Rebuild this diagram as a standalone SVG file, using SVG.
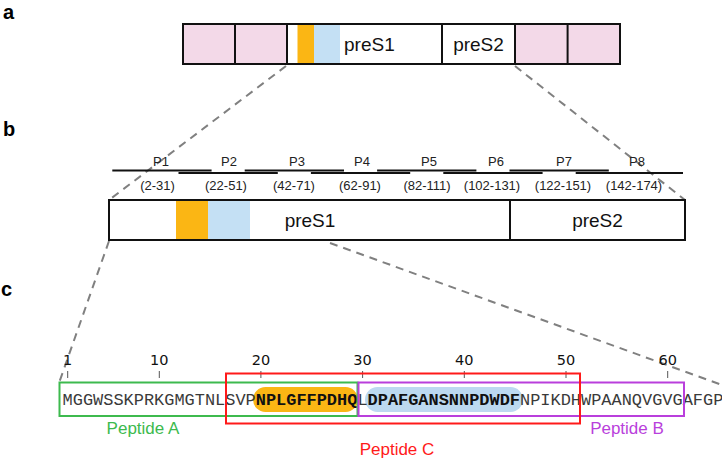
<svg xmlns="http://www.w3.org/2000/svg" width="722" height="464" viewBox="0 0 722 464">
<style>
.lbl{font-family:"Liberation Sans",Arial,sans-serif;font-weight:bold;font-size:20px;fill:#000}
.seg{font-family:"Liberation Sans",Arial,sans-serif;font-size:19px;fill:#111}
.pl{font-family:"Liberation Sans",Arial,sans-serif;font-size:13px;fill:#222;text-anchor:middle}
.pline{stroke:#111;stroke-width:2}
.box{fill:none;stroke:#111;stroke-width:2}
.dash{stroke:#808080;stroke-width:2;stroke-dasharray:8 6;fill:none}
.tick{stroke:#555;stroke-width:1}
.num{font-family:"DejaVu Sans",Verdana,sans-serif;font-size:14.5px;fill:#111;text-anchor:middle}
.seq{font-family:"Liberation Mono","Courier New",monospace;font-size:16.95px;fill:#3a3a3a}
.bold{font-weight:bold;fill:#111}
.pep{font-family:"Liberation Sans",Arial,sans-serif;font-size:17px;text-anchor:middle}
</style>
<rect width="722" height="464" fill="#fff"/>
<text class="lbl" x="3" y="19">a</text>
<text class="lbl" x="3" y="136">b</text>
<text class="lbl" x="1" y="296">c</text>

<g id="connectors">
<line class="dash" x1="286" y1="66" x2="109" y2="200"/>
<line class="dash" x1="515" y1="66" x2="685" y2="200"/>
<line class="dash" x1="109" y1="241" x2="59" y2="383"/>
<line class="dash" x1="330" y1="243" x2="722" y2="385"/>
</g>

<g id="bar-a">
<rect x="183" y="24" width="52" height="40" fill="#f3d9e8"/>
<rect x="235" y="24" width="52" height="40" fill="#f3d9e8"/>
<rect x="515" y="24" width="52.6" height="40" fill="#f3d9e8"/>
<rect x="567.6" y="24" width="52.4" height="40" fill="#f3d9e8"/>
<rect x="297.5" y="25" width="16.5" height="38" fill="#fbb614"/>
<rect x="314" y="25" width="26" height="38" fill="#c4e0f4"/>
<rect class="box" x="183" y="24" width="437" height="40"/>
<line class="box" x1="235" y1="24" x2="235" y2="64" stroke-width="1"/>
<line class="box" x1="287" y1="24" x2="287" y2="64" stroke-width="1"/>
<line class="box" x1="442" y1="24" x2="442" y2="64" stroke-width="1.5"/>
<line class="box" x1="515" y1="24" x2="515" y2="64" stroke-width="1.5"/>
<line class="box" x1="567.6" y1="24" x2="567.6" y2="64" stroke-width="1"/>
<text class="seg" x="344" y="51">preS1</text>
<text class="seg" x="478.5" y="51" text-anchor="middle">preS2</text>
</g>

<g id="peptides-b">
<line class="pline" x1="112.3" y1="170.5" x2="211.6" y2="170.5"/>
<line class="pline" x1="178.5" y1="173" x2="277.8" y2="173"/>
<line class="pline" x1="244.7" y1="170.5" x2="344" y2="170.5"/>
<line class="pline" x1="310.9" y1="173" x2="410.2" y2="173"/>
<line class="pline" x1="377.1" y1="170.5" x2="476.4" y2="170.5"/>
<line class="pline" x1="443.3" y1="173" x2="542.6" y2="173"/>
<line class="pline" x1="509.5" y1="170.5" x2="608.8" y2="170.5"/>
<line class="pline" x1="575.7" y1="173" x2="683" y2="173"/>
<text class="pl" x="161" y="165.5">P1</text>
<text class="pl" x="229" y="165.5">P2</text>
<text class="pl" x="297" y="165.5">P3</text>
<text class="pl" x="362" y="165.5">P4</text>
<text class="pl" x="429" y="165.5">P5</text>
<text class="pl" x="496" y="165.5">P6</text>
<text class="pl" x="564" y="165.5">P7</text>
<text class="pl" x="637" y="165.5">P8</text>
<text class="pl" x="157.5" y="189.5">(2-31)</text>
<text class="pl" x="226" y="189.5">(22-51)</text>
<text class="pl" x="294" y="189.5">(42-71)</text>
<text class="pl" x="360" y="189.5">(62-91)</text>
<text class="pl" x="427" y="189.5">(82-111)</text>
<text class="pl" x="492" y="189.5">(102-131)</text>
<text class="pl" x="563" y="189.5">(122-151)</text>
<text class="pl" x="634" y="189.5">(142-174)</text>
</g>

<g id="bar-b">
<rect x="176" y="201" width="32" height="38" fill="#fbb614"/>
<rect x="208" y="201" width="42" height="38" fill="#c4e0f4"/>
<rect class="box" x="109" y="200" width="576" height="40"/>
<line class="box" x1="510" y1="200" x2="510" y2="240" stroke-width="1.5"/>
<text class="seg" x="310" y="227" text-anchor="middle">preS1</text>
<text class="seg" x="597.5" y="227" text-anchor="middle">preS2</text>
</g>

<g id="ruler">
<g class="num">
<text x="67.7" y="365">1</text>
<text x="159.3" y="365">10</text>
<text x="260.9" y="365">20</text>
<text x="362.6" y="365">30</text>
<text x="464.3" y="365">40</text>
<text x="566" y="365">50</text>
<text x="667.7" y="365">60</text>
</g>
<line class="tick" x1="67.7" y1="371" x2="67.7" y2="378"/>
<line class="tick" x1="159.3" y1="371" x2="159.3" y2="378"/>
<line class="tick" x1="260.9" y1="371" x2="260.9" y2="378"/>
<line class="tick" x1="362.6" y1="371" x2="362.6" y2="378"/>
<line class="tick" x1="464.3" y1="371" x2="464.3" y2="378"/>
<line class="tick" x1="566" y1="371" x2="566" y2="378"/>
<line class="tick" x1="667.7" y1="371" x2="667.7" y2="378"/>
</g>

<g id="highlights">
<rect x="253" y="387" width="105" height="25" rx="12.5" fill="#fbb614"/>
<rect x="365" y="387" width="158" height="25" rx="12.5" fill="#bcd9f0"/>
</g>

<g id="sequence">
<text class="seq" x="62.6" y="405">MGGWSSKPRKGMGTNLSVP<tspan class="bold">NPLGFFPDHQ</tspan>L<tspan class="bold">DPAFGANSNNPDWDF</tspan>NPIKDHWPAANQVGVGAFGP</text>
</g>

<g id="peptide-a">
<rect x="59.5" y="382.5" width="298" height="33.5" fill="none" stroke="#3dba4e" stroke-width="2"/>
<text class="pep" x="143" y="434" fill="#3dba4e">Peptide A</text>
</g>
<g id="peptide-b">
<rect x="358.5" y="382.5" width="325.5" height="33.5" fill="none" stroke="#b93fdc" stroke-width="2"/>
<text class="pep" x="627" y="434" fill="#b93fdc">Peptide B</text>
</g>
<g id="peptide-c">
<rect x="226" y="373.5" width="354" height="50" fill="none" stroke="#ff1a1a" stroke-width="2"/>
<text class="pep" x="397" y="455" fill="#ff1a1a">Peptide C</text>
</g>
</svg>
